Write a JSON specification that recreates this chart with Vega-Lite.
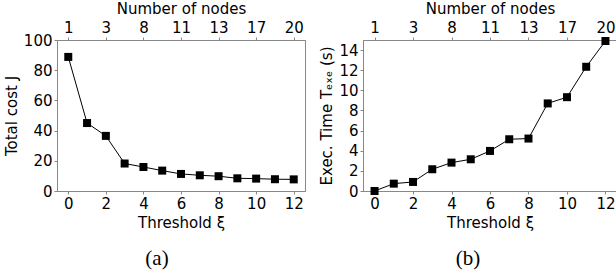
{
  "$schema": "https://vega.github.io/schema/vega-lite/v6.json",
  "padding": {"left": 3, "top": 0, "right": 0, "bottom": 0},
  "datasets": {
    "cost": [
      {"xi": 0, "v": 88.8}, {"xi": 1, "v": 45.0}, {"xi": 2, "v": 36.5},
      {"xi": 3, "v": 18.2}, {"xi": 4, "v": 15.9}, {"xi": 5, "v": 13.5},
      {"xi": 6, "v": 11.3}, {"xi": 7, "v": 10.4}, {"xi": 8, "v": 9.8},
      {"xi": 9, "v": 8.4}, {"xi": 10, "v": 8.2}, {"xi": 11, "v": 7.8},
      {"xi": 12, "v": 7.7}
    ],
    "time": [
      {"xi": 0, "v": 0.0}, {"xi": 1, "v": 0.73}, {"xi": 2, "v": 0.9},
      {"xi": 3, "v": 2.16}, {"xi": 4, "v": 2.82}, {"xi": 5, "v": 3.15},
      {"xi": 6, "v": 3.98}, {"xi": 7, "v": 5.14}, {"xi": 8, "v": 5.21},
      {"xi": 9, "v": 8.7}, {"xi": 10, "v": 9.32}, {"xi": 11, "v": 12.34},
      {"xi": 12, "v": 14.9}
    ]
  },
  "config": {
    "font": "DejaVu Sans",
    "view": {"stroke": "#888888", "strokeWidth": 1},
    "axis": {
      "grid": false, "domainColor": "#888888", "tickColor": "#888888", "tickSize": 3,
      "labelFontSize": 15, "titleFontSize": 15, "titleFontWeight": "normal",
      "labelColor": "black", "titleColor": "black",
      "labelFont": "DejaVu Sans", "titleFont": "DejaVu Sans", "labelFlush": false
    },
    "title": {"font": "Liberation Serif", "fontSize": 21, "fontWeight": "normal", "orient": "bottom", "color": "black"}
  },
  "spacing": 13,
  "hconcat": [
    {
      "width": 248, "height": 151,
      "title": {"text": "(a)", "dx": -24, "offset": 18},
      "data": {"name": "cost"},
      "encoding": {
        "y": {"field": "v", "type": "quantitative", "scale": {"domain": [0, 100], "nice": false},
              "axis": {"values": [0, 20, 40, 60, 80, 100], "title": "Total cost J"}}
      },
      "layer": [
        {
          "mark": {"type": "line", "color": "black", "strokeWidth": 1},
          "encoding": {
            "x": {"field": "xi", "type": "quantitative", "scale": {"domain": [-0.6, 12.6], "nice": false, "zero": false},
                  "axis": {"orient": "bottom", "values": [0, 2, 4, 6, 8, 10, 12], "title": "Threshold ξ"}}
          }
        },
        {
          "mark": {"type": "point", "shape": "square", "filled": true, "color": "black", "size": 64, "opacity": 1},
          "encoding": {
            "x": {"field": "xi", "type": "quantitative", "scale": {"domain": [-0.6, 12.6], "nice": false, "zero": false},
                  "axis": {"orient": "top", "values": [0, 2, 4, 6, 8, 10, 12], "title": "Number of nodes",
                           "labelExpr": "datum.value == 0 ? '1' : datum.value == 2 ? '3' : datum.value == 4 ? '8' : datum.value == 6 ? '11' : datum.value == 8 ? '13' : datum.value == 10 ? '17' : '20'"}}
          }
        }
      ],
      "resolve": {"axis": {"x": "independent"}}
    },
    {
      "width": 254, "height": 151,
      "title": {"text": "(b)", "dx": -22, "offset": 18},
      "data": {"name": "time"},
      "encoding": {
        "y": {"field": "v", "type": "quantitative", "scale": {"domain": [0, 15], "nice": false},
              "axis": {"values": [0, 2, 4, 6, 8, 10, 12, 14], "title": "Exec. Time Tₑₓₑ (s)"}}
      },
      "layer": [
        {
          "mark": {"type": "line", "color": "black", "strokeWidth": 1},
          "encoding": {
            "x": {"field": "xi", "type": "quantitative", "scale": {"domain": [-0.6, 12.6], "nice": false, "zero": false},
                  "axis": {"orient": "bottom", "values": [0, 2, 4, 6, 8, 10, 12], "title": "Threshold ξ"}}
          }
        },
        {
          "mark": {"type": "point", "shape": "square", "filled": true, "color": "black", "size": 64, "opacity": 1},
          "encoding": {
            "x": {"field": "xi", "type": "quantitative", "scale": {"domain": [-0.6, 12.6], "nice": false, "zero": false},
                  "axis": {"orient": "top", "values": [0, 2, 4, 6, 8, 10, 12], "title": "Number of nodes",
                           "labelExpr": "datum.value == 0 ? '1' : datum.value == 2 ? '3' : datum.value == 4 ? '8' : datum.value == 6 ? '11' : datum.value == 8 ? '13' : datum.value == 10 ? '17' : '20'"}}
          }
        }
      ],
      "resolve": {"axis": {"x": "independent"}}
    }
  ]
}
